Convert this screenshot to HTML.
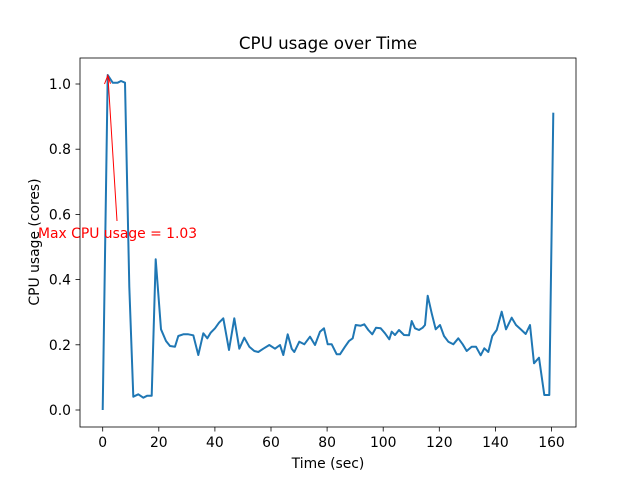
<!DOCTYPE html>
<html><head><meta charset="utf-8"><style>html,body{margin:0;padding:0;background:#fff}svg{display:block}</style></head><body>
<svg width="640" height="480" viewBox="0 0 640 480" xmlns="http://www.w3.org/2000/svg" font-family="DejaVu Sans, Liberation Sans, sans-serif">
<rect width="640" height="480" fill="#fff"/>
<g stroke="#000" stroke-width="0.8">
<line x1="102.7" y1="427" x2="102.7" y2="431.5"/><line x1="158.8" y1="427" x2="158.8" y2="431.5"/><line x1="214.9" y1="427" x2="214.9" y2="431.5"/><line x1="271" y1="427" x2="271" y2="431.5"/><line x1="327.1" y1="427" x2="327.1" y2="431.5"/><line x1="383.2" y1="427" x2="383.2" y2="431.5"/><line x1="439.3" y1="427" x2="439.3" y2="431.5"/><line x1="495.4" y1="427" x2="495.4" y2="431.5"/><line x1="551.5" y1="427" x2="551.5" y2="431.5"/>
<line x1="75.5" y1="410" x2="80" y2="410"/><line x1="75.5" y1="344.8" x2="80" y2="344.8"/><line x1="75.5" y1="279.6" x2="80" y2="279.6"/><line x1="75.5" y1="214.4" x2="80" y2="214.4"/><line x1="75.5" y1="149.2" x2="80" y2="149.2"/><line x1="75.5" y1="84" x2="80" y2="84"/>
</g>
<g font-size="13.9px" fill="#000" text-anchor="middle">
<text x="102.7" y="447">0</text><text x="158.8" y="447">20</text><text x="214.9" y="447">40</text><text x="271" y="447">60</text><text x="327.1" y="447">80</text><text x="383.2" y="447">100</text><text x="439.3" y="447">120</text><text x="495.4" y="447">140</text><text x="551.5" y="447">160</text>
</g>
<g font-size="13.9px" fill="#000" text-anchor="end">
<text x="71" y="415">0.0</text><text x="71" y="349.8">0.2</text><text x="71" y="284.6">0.4</text><text x="71" y="219.4">0.6</text><text x="71" y="154.2">0.8</text><text x="71" y="89">1.0</text>
</g>
<text x="328" y="468" font-size="13.9px" text-anchor="middle">Time (sec)</text>
<text x="39" y="242" font-size="13.9px" text-anchor="middle" transform="rotate(-90 39 242)">CPU usage (cores)</text>
<text x="328" y="49" font-size="16.7px" text-anchor="middle">CPU usage over Time</text>
<polyline fill="none" stroke="#1f77b4" stroke-width="2" stroke-linejoin="round" points="102.7,410 107.7,75 112.7,82.7 117.7,82.7 121,81 125,82.7 129.3,286.7 133.3,396.7 138.3,394.3 143.3,397.7 147.3,395.7 151.7,395.7 155.7,259.3 161,329.3 166,341 170,346 175,346.7 178.3,336 183.3,334.3 188.3,334.3 193.3,335.3 198.3,355 203.3,333.3 207.3,338.3 210.7,332.7 215,328.3 219,322.7 223.3,318.3 229,350 234.3,318.3 239.3,348.7 244.3,337.7 249.3,346.7 254.3,351 258.3,352 263.3,348.7 269.3,345 275,348.7 280,345 283.3,355 287.7,334.3 291.7,348.7 294.3,352 299.3,341.7 304.3,344.3 310,336.7 315,345 320,331.7 324,328.3 327.7,344.3 331.7,344.3 336.7,354.3 340,354.3 345,346.7 349,341 352.7,338.3 355.7,325 360.7,325.7 364.3,324.3 368.3,330 372.3,334.3 376,327.7 380.7,328.3 385,333.3 389.3,339.3 391.7,331.7 395,335 399,330 404,335 409,335.3 411.7,321 415,328.3 419,330 422.7,327.7 425,325 427.7,295.7 431.7,313.3 435.7,329.3 440,325 444,336 448.3,341.7 453.3,344.3 458.3,338.3 462.7,344.3 466.7,351 471.7,346.7 476,346.7 480.7,355.3 484.3,348.3 488.3,352 492.3,336 496.7,330 501.7,311.7 506,329.3 511.7,317.7 516,325 520.7,329.3 525.7,334 530,325 534,363.3 539,357.7 544.3,395 549.3,395 553.3,112.7"/>
<line x1="117" y1="221" x2="108" y2="77" stroke="#f00" stroke-width="1"/>
<polyline points="104.5,84 107.8,75.5 110.5,83.7" fill="none" stroke="#f00" stroke-width="1"/>
<text x="38" y="238" font-size="13.9px" fill="#f00">Max CPU usage = 1.03</text>
<rect x="80" y="58" width="496" height="369" fill="none" stroke="#000" stroke-width="0.8"/>
</svg>
</body></html>
